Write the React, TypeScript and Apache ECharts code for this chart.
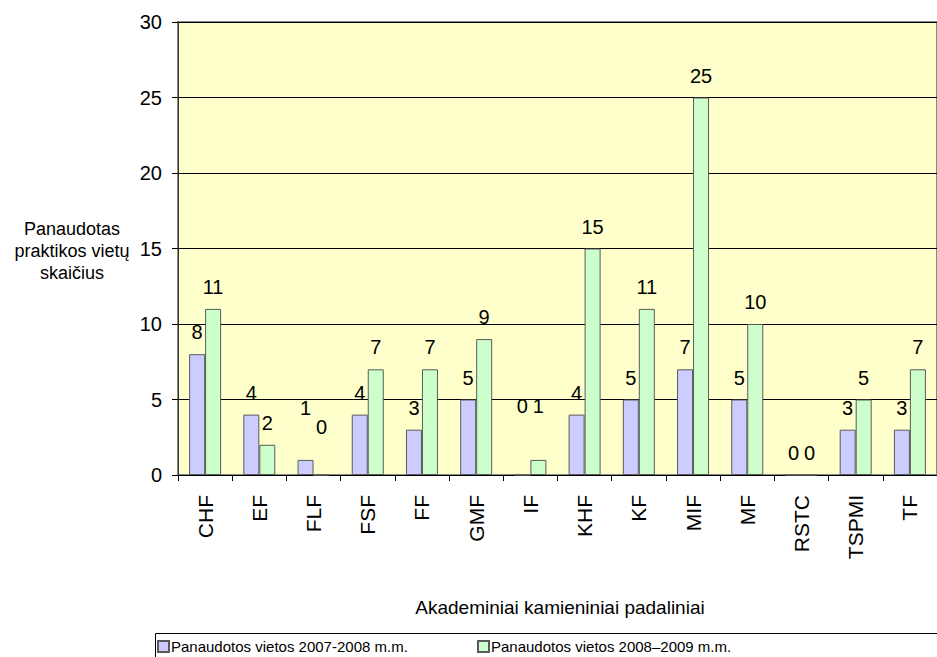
import React, { useEffect, useRef } from "react";
import * as echarts from "echarts";

const categories = ["CHF", "EF", "FLF", "FSF", "FF", "GMF", "IF", "KHF", "KF", "MIF", "MF", "RSTC", "TSPMI", "TF"];
const values2007 = [8, 4, 1, 4, 3, 5, 0, 4, 5, 7, 5, 0, 3, 3];
const values2008 = [11, 2, 0, 7, 7, 9, 1, 15, 11, 25, 10, 0, 5, 7];
const seriesNames = ["Panaudotos vietos 2007‑2008 m.m.", "Panaudotos vietos 2008–2009 m.m."];
const yTicks = [0, 5, 10, 15, 20, 25, 30];
const yAxisTitle = "Panaudotas\npraktikos vietų\nskaičius";
const xAxisTitle = "Akademiniai kamieniniai padaliniai";

// manual label lifts (px) mimicking the original's hand-placed labels
const labelLift2007: Record<string, number> = { FLF: 30, IF: 47 };
const labelLift2008: Record<string, number> = { FLF: 26, IF: 32 };

const FONT = "'Liberation Sans', Arial, sans-serif";

export default function App() {
  const ref = useRef<HTMLDivElement>(null);
  useEffect(() => {
    if (!ref.current) return;
    const chart = echarts.init(ref.current, undefined, { renderer: "svg" });
    const mk = (vals: number[], lifts: Record<string, number>) =>
      vals.map((v, i) => {
        const lift = lifts[categories[i]];
        return lift ? { value: v, label: { offset: [0, -lift] } } : v;
      });
    const barItem = (color: string) => ({ color, borderColor: "#5a5a5a", borderWidth: 1 });
    const label = {
      show: true,
      position: "top",
      distance: 12,
      color: "#000",
      fontFamily: FONT,
      fontWeight: "normal",
      fontSize: 20,
    };
    const legendText = { fontFamily: FONT, fontSize: 15, color: "#000", padding: [0, 0, 0, -3] };
    chart.setOption({
      animation: false,
      backgroundColor: "#fff",
      textStyle: { fontFamily: FONT, fontWeight: "normal" },
      grid: {
        left: 178,
        top: 22,
        right: -12,
        bottom: 182,
        show: true,
        backgroundColor: "#FFFFCC",
        borderColor: "#888",
        borderWidth: 2,
      },
      legend: [
        {
          data: [seriesNames[0]],
          left: 152,
          top: 634,
          itemWidth: 11,
          itemHeight: 11,
          icon: "rect",
          textStyle: legendText,
        },
        {
          data: [seriesNames[1]],
          left: 472,
          top: 634,
          itemWidth: 11,
          itemHeight: 11,
          icon: "rect",
          textStyle: legendText,
        },
      ],
      xAxis: {
        type: "category",
        data: categories,
        axisLine: { lineStyle: { color: "#000", width: 1 } },
        axisTick: { show: true, alignWithLabel: false, length: 6, lineStyle: { color: "#000" } },
        axisLabel: { rotate: 90, margin: 20, fontSize: 21, color: "#000", fontFamily: FONT },
      },
      yAxis: {
        type: "value",
        min: yTicks[0],
        max: yTicks[yTicks.length - 1],
        interval: 5,
        axisLine: { show: true, lineStyle: { color: "#333", width: 1 } },
        axisTick: { show: true, length: 6, lineStyle: { color: "#000" } },
        axisLabel: { margin: 16, fontSize: 20, color: "#000", fontFamily: FONT },
        splitLine: { show: true, lineStyle: { color: "#000", width: 1 } },
      },
      graphic: [
        {
          type: "text",
          x: 72,
          y: 251,
          style: {
            text: yAxisTitle,
            textAlign: "center",
            textVerticalAlign: "middle",
            fontFamily: FONT,
            fontSize: 18,
            lineHeight: 22,
            fill: "#000",
          },
        },
        {
          type: "text",
          x: 560,
          y: 607,
          style: {
            text: xAxisTitle,
            textAlign: "center",
            textVerticalAlign: "middle",
            fontFamily: FONT,
            fontSize: 19,
            fill: "#000",
          },
        },
        {
          type: "rect",
          shape: { x: 155.5, y: 633.5, width: 820, height: 60 },
          style: { fill: "none", stroke: "#000", lineWidth: 1 },
          silent: true,
        },
      ],
      series: [
        {
          name: seriesNames[0],
          type: "bar",
          barWidth: 16,
          barGap: "0%",
          itemStyle: barItem("#CCCCFF"),
          label,
          data: mk(values2007, labelLift2007),
        },
        {
          name: seriesNames[1],
          type: "bar",
          barWidth: 16,
          barGap: "0%",
          itemStyle: barItem("#CCFFCC"),
          label,
          data: mk(values2008, labelLift2008),
        },
      ],
    });
    return () => chart.dispose();
  }, []);
  return (
    <div
      ref={ref}
      style={{ position: "absolute", left: 0, top: 0, width: 937, height: 657 }}
    />
  );
}
